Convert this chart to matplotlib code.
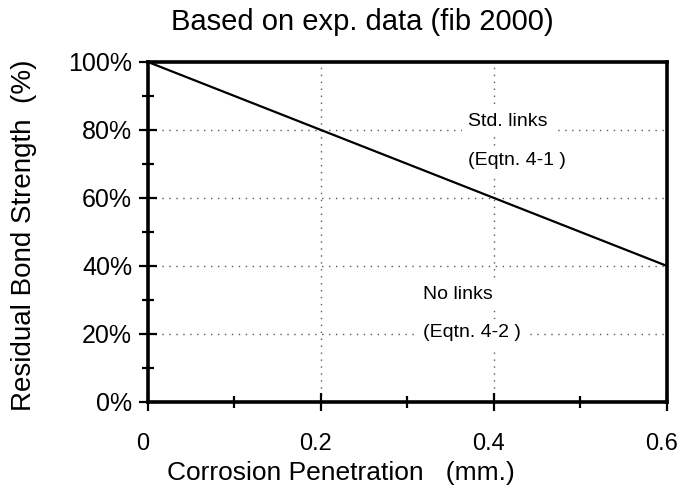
import matplotlib.pyplot as plt
from matplotlib.ticker import MultipleLocator, PercentFormatter
from matplotlib.transforms import ScaledTranslation

plt.rcParams['font.family'] = ['Liberation Sans', 'DejaVu Sans']

# data
penetration = [0.0, 0.6]        # mm
bond_strength = [100, 40]       # %

labels = [
    (0.370, 82.5, 'Std. links'),
    (0.370, 71.0, '(Eqtn. 4-1 )'),
    (0.318, 31.5, 'No links'),
    (0.318, 20.3, '(Eqtn. 4-2 )'),
]

fig = plt.figure(figsize=(6.82, 4.92), dpi=100)
ax = fig.add_axes([0.217, 0.183, 0.761, 0.691])

ax.plot(penetration, bond_strength, color='black', lw=1.6, zorder=3)

ax.set_xlim(0, 0.6)
ax.set_ylim(0, 100)
ax.xaxis.set_major_locator(MultipleLocator(0.2))
ax.xaxis.set_minor_locator(MultipleLocator(0.1))
ax.yaxis.set_major_locator(MultipleLocator(20))
ax.yaxis.set_minor_locator(MultipleLocator(10))
ax.yaxis.set_major_formatter(PercentFormatter(decimals=0))
ax.set_xticks([0, 0.2, 0.4, 0.6])
ax.set_xticklabels(['0', '0.2', '0.4', '0.6'])

# dotted grid at major ticks
ax.grid(True, which='major', color='0.35', linestyle=(0, (1, 4)), lw=1.0)
ax.set_axisbelow(True)

for sp in ax.spines.values():
    sp.set_linewidth(2.6)

ax.tick_params(axis='both', which='major', direction='inout', length=13, width=1.6, labelsize=18)
ax.tick_params(axis='x', which='major', labelsize=17, pad=16)
ax.tick_params(axis='both', which='minor', direction='inout', length=8, width=1.6)
ax.tick_params(axis='y', which='major', pad=5)

# x tick labels sit a little left of their ticks in the original
shift = ScaledTranslation(-5 / 100, 0, fig.dpi_scale_trans)
for lbl in ax.get_xticklabels():
    lbl.set_transform(lbl.get_transform() + shift)

for x, y, s in labels:
    ax.text(x, y, s, fontsize=14, ha='left', va='center', zorder=2,
            bbox=dict(boxstyle='square,pad=0.3', fc='white', ec='none'))

ax.set_xlabel('Corrosion Penetration   (mm.)', fontsize=19)
ax.xaxis.set_label_coords(0.372, -0.175)
ax.set_ylabel('Residual Bond Strength  (%)', fontsize=20)
ax.yaxis.set_label_coords(-0.213, 0.49)

fig.text(0.531, 1 - 22 / 492, 'Based on exp. data (fib 2000)', fontsize=21,
         ha='center', va='center')

fig.savefig('out.png', dpi=100)
